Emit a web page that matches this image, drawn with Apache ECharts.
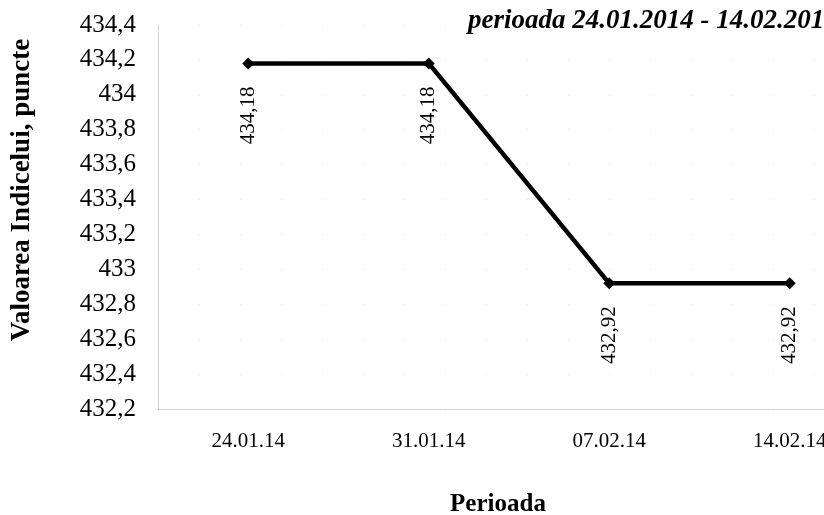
<!DOCTYPE html>
<html>
<head>
<meta charset="utf-8">
<script src="https://cdn.jsdelivr.net/npm/echarts@6/dist/echarts.min.js"></script>
<style>
  html, body { margin: 0; padding: 0; background: #fff; }
  #chart { width: 824px; height: 515px; }
</style>
</head>
<body>
<div id="chart"></div>
<script>
// date de pe grafic
const perioade = ['24.01.14', '31.01.14', '07.02.14', '14.02.14']
const valori = [434.18, 434.18, 432.92, 432.92]
const etichete = ['434,18', '434,18', '432,92', '432,92']

const serif = '"Liberation Serif", "DejaVu Serif", serif'

const chart = echarts.init(document.getElementById('chart'))
chart.setOption({
  animation: false,
  backgroundColor: '#fff',
  title: {
    text: 'perioada 24.01.2014 - 14.02.2014',
    left: 463,
    top: 3,
    textStyle: {
      fontFamily: serif,
      fontSize: 27,
      fontWeight: 'bold',
      fontStyle: 'italic',
      color: '#000'
    }
  },
  grid: {
    left: 158,
    top: 25,
    width: 722,
    bottom: 106,
    outerBoundsMode: 'none',
    containLabel: false
  },
  xAxis: {
    type: 'category',
    data: perioade,
    boundaryGap: true,
    name: 'Perioada',
    nameLocation: 'middle',
    nameGap: 83,
    nameTextStyle: {
      fontFamily: serif,
      fontSize: 25,
      fontWeight: 'bold',
      color: '#000',
      padding: [0, 42, 0, 0]
    },
    axisLine: { lineStyle: { color: '#c8c8c8', type: 'dotted', width: 1 } },
    axisTick: { show: false },
    axisLabel: {
      margin: 22,
      fontFamily: serif,
      fontSize: 21,
      color: '#000'
    },
    splitLine: { show: false }
  },
  yAxis: {
    type: 'value',
    min: 432.2,
    max: 434.4,
    interval: 0.2,
    name: 'Valoarea Indicelui, puncte',
    nameLocation: 'middle',
    nameGap: 122,
    nameTextStyle: {
      fontFamily: serif,
      fontSize: 27,
      fontWeight: 'bold',
      color: '#000',
      padding: [0, 0, 0, 54]
    },
    axisLine: { show: true, lineStyle: { color: '#c8c8c8', type: 'dotted', width: 1 } },
    axisTick: { show: false },
    axisLabel: {
      margin: 22,
      fontFamily: serif,
      fontSize: 25,
      color: '#000',
      formatter: function (v) {
        return String(Number(v.toFixed(1))).replace('.', ',')
      }
    },
    splitLine: { show: true, lineStyle: { color: '#e4e4e4', type: [1, 40], width: 1 } }
  },
  series: [
    {
      type: 'line',
      data: valori,
      symbol: 'diamond',
      symbolSize: 12,
      showAllSymbol: true,
      lineStyle: { color: '#000', width: 4.5 },
      itemStyle: { color: '#000' },
      label: {
        show: true,
        position: 'bottom',
        distance: 22,
        offset: [5, 0],
        rotate: 90,
        align: 'right',
        verticalAlign: 'middle',
        fontFamily: serif,
        fontSize: 21,
        color: '#000',
        formatter: function (p) {
          return etichete[p.dataIndex]
        }
      }
    }
  ]
})
</script>
</body>
</html>
